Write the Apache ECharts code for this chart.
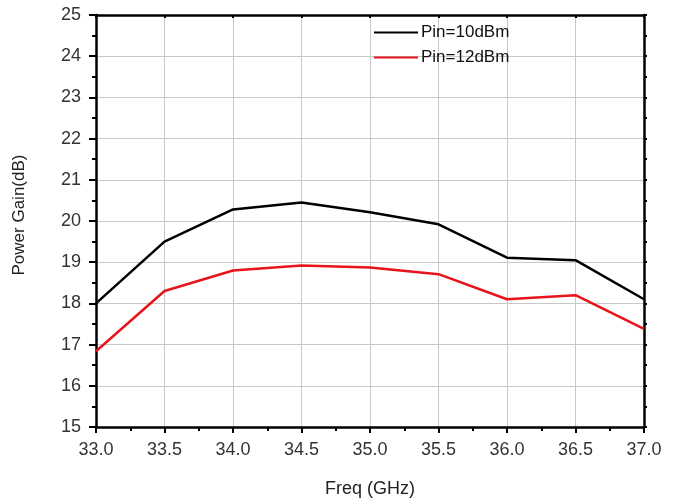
<!DOCTYPE html>
<html>
<head>
<meta charset="utf-8">
<script src="https://cdn.jsdelivr.net/npm/echarts@6/dist/echarts.min.js"></script>
<style>
  html, body { margin: 0; padding: 0; background: #fff; }
  #chart { width: 679px; height: 499px; }
</style>
</head>
<body>
<div id="chart"></div>
<script>
// Frequency points (GHz)
const freq = [33.0, 33.5, 34.0, 34.5, 35.0, 35.5, 36.0, 36.5, 37.0];
// Power gain (dB)
const gainPin10 = [18.0, 19.5, 20.28, 20.45, 20.21, 19.92, 19.11, 19.05, 18.1];
const gainPin12 = [16.84, 18.3, 18.8, 18.92, 18.87, 18.71, 18.1, 18.2, 17.38];
const seriesNames = ["Pin=10dBm", "Pin=12dBm"];

const chart = echarts.init(document.getElementById("chart"));
const font = "Liberation Sans, Arial, sans-serif";

const axisLine = { show: true, lineStyle: { color: "#000", width: 2.5 } };
const gridLine = { show: true, lineStyle: { color: "#c8c8c8", width: 1 } };

const option = {
  animation: false,
  backgroundColor: "#fff",
  grid: { left: 96, right: 35, top: 15, bottom: 72, outerBoundsMode: "none", containLabel: false },
  legend: {
    orient: "vertical",
    left: 369,
    top: 19,
    itemWidth: 44,
    itemHeight: 2,
    itemGap: 8,
    icon: "rect",
    data: seriesNames,
    textStyle: { fontFamily: font, fontSize: 17, color: "#111", padding: [0, 0, 0, -2] }
  },
  xAxis: [
    {
      type: "value",
      min: 33,
      max: 37,
      interval: 0.5,
      name: "Freq (GHz)",
      nameLocation: "middle",
      nameGap: 53,
      nameTextStyle: { fontFamily: font, fontSize: 18, color: "#222" },
      axisLine,
      axisTick: { show: true, length: 6, lineStyle: { color: "#000", width: 2 } },
      minorTick: { show: true, splitNumber: 2, length: 4, lineStyle: { color: "#000", width: 2 } },
      axisLabel: {
        fontFamily: font, fontSize: 18, color: "#333", margin: 14,
        formatter: (v) => v.toFixed(1)
      },
      splitLine: gridLine
    },
    {
      type: "value",
      position: "top",
      min: 33,
      max: 37,
      interval: 0.5,
      axisLine,
      axisTick: { show: true, inside: true, length: 3, lineStyle: { color: "#000", width: 2 } },
      minorTick: { show: false },
      axisLabel: { show: false },
      splitLine: { show: false }
    }
  ],
  yAxis: [
    {
      type: "value",
      min: 15,
      max: 25,
      interval: 1,
      name: "Power Gain(dB)",
      nameLocation: "middle",
      nameGap: 68,
      nameTextStyle: { fontFamily: font, fontSize: 17, color: "#222", padding: [0, 0, 0, 12] },
      axisLine,
      axisTick: { show: true, length: 7, lineStyle: { color: "#000", width: 2 } },
      minorTick: { show: true, splitNumber: 2, length: 4, lineStyle: { color: "#000", width: 2 } },
      axisLabel: { fontFamily: font, fontSize: 18, color: "#333", margin: 15 },
      splitLine: gridLine
    },
    {
      type: "value",
      position: "right",
      min: 15,
      max: 25,
      interval: 1,
      axisLine,
      axisTick: { show: true, length: 3, lineStyle: { color: "#000", width: 2 } },
      minorTick: { show: true, splitNumber: 2, length: 3, lineStyle: { color: "#000", width: 2 } },
      axisLabel: { show: false },
      splitLine: { show: false }
    }
  ],
  series: [
    {
      name: seriesNames[0],
      type: "line",
      data: freq.map((f, i) => [f, gainPin10[i]]),
      showSymbol: false,
      lineStyle: { color: "#000", width: 2.5 },
      itemStyle: { color: "#000" }
    },
    {
      name: seriesNames[1],
      type: "line",
      data: freq.map((f, i) => [f, gainPin12[i]]),
      showSymbol: false,
      lineStyle: { color: "#e8141c", width: 2.5 },
      itemStyle: { color: "#e8141c" }
    }
  ]
};

chart.setOption(option);
</script>
</body>
</html>
